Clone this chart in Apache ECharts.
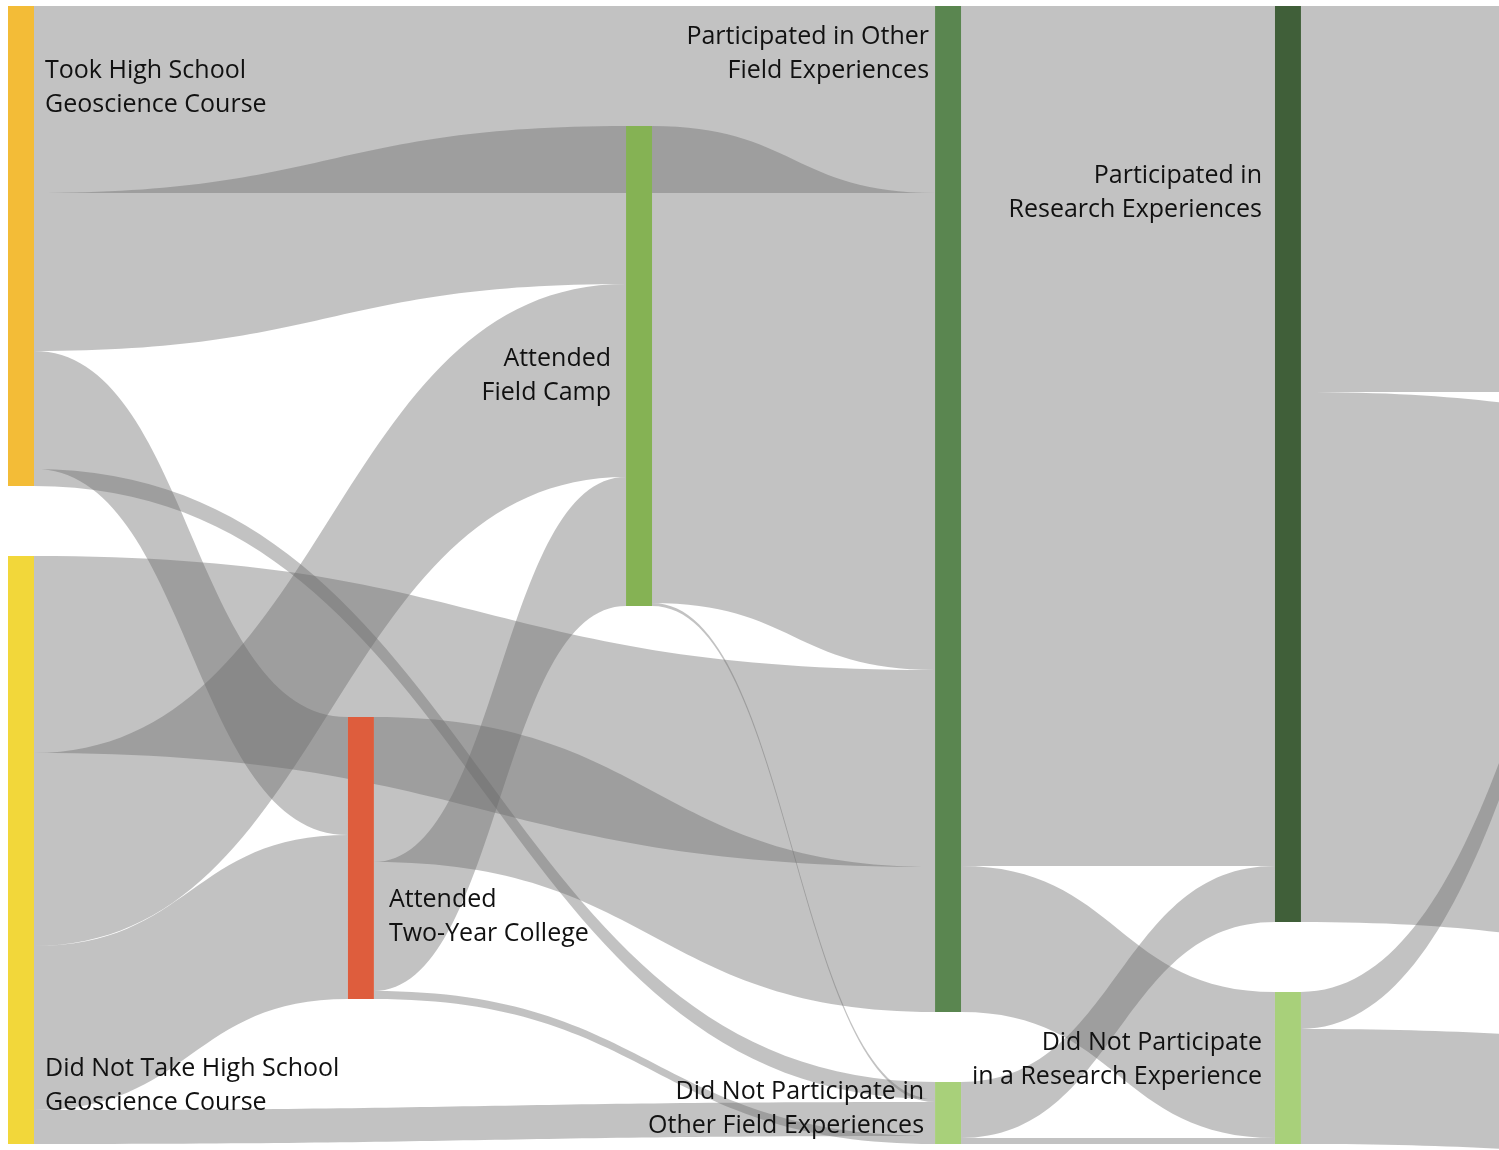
<!DOCTYPE html>
<html>
<head>
<meta charset="utf-8">
<title>Geoscience pathways</title>
<script src="https://cdn.jsdelivr.net/npm/echarts@6/dist/echarts.min.js"></script>
<style>
  html, body { margin: 0; padding: 0; background: #fff; }
  #chart { width: 1499px; height: 1150px; }
</style>
</head>
<body>
<div id="chart"></div>
<script>
// nodes (visible part of the diagram, left to right)
const nodeNames = [
  "Took High School Geoscience Course",
  "Did Not Take High School Geoscience Course",
  "Attended Two-Year College",
  "Attended Field Camp",
  "Participated in Other Field Experiences",
  "Did Not Participate in Other Field Experiences",
  "Participated in Research Experiences",
  "Did Not Participate in a Research Experience"
];
const nodeLabels = [
  "Took High School\nGeoscience Course",
  "Did Not Take High School\nGeoscience Course",
  "Attended\nTwo-Year College",
  "Attended\nField Camp",
  "Participated in Other\nField Experiences",
  "Did Not Participate in\nOther Field Experiences",
  "Participated in\nResearch Experiences",
  "Did Not Participate\nin a Research Experience"
];
// the next stage is cut off at the right edge of the picture
const hiddenNames = ["Next Stage A", "Next Stage B", "Next Stage C", "Next Stage D"];

// flows
const linkSources = [
  "Took High School Geoscience Course", "Took High School Geoscience Course",
  "Took High School Geoscience Course", "Took High School Geoscience Course",
  "Did Not Take High School Geoscience Course", "Did Not Take High School Geoscience Course",
  "Did Not Take High School Geoscience Course", "Did Not Take High School Geoscience Course",
  "Attended Two-Year College", "Attended Two-Year College", "Attended Two-Year College",
  "Attended Field Camp", "Attended Field Camp",
  "Participated in Other Field Experiences", "Participated in Other Field Experiences",
  "Did Not Participate in Other Field Experiences", "Did Not Participate in Other Field Experiences",
  "Participated in Research Experiences", "Participated in Research Experiences",
  "Did Not Participate in a Research Experience", "Did Not Participate in a Research Experience"
];
const linkTargets = [
  "Participated in Other Field Experiences", "Attended Field Camp",
  "Attended Two-Year College", "Did Not Participate in Other Field Experiences",
  "Participated in Other Field Experiences", "Attended Field Camp",
  "Attended Two-Year College", "Did Not Participate in Other Field Experiences",
  "Participated in Other Field Experiences", "Attended Field Camp", "Did Not Participate in Other Field Experiences",
  "Participated in Other Field Experiences", "Did Not Participate in Other Field Experiences",
  "Participated in Research Experiences", "Did Not Participate in a Research Experience",
  "Participated in Research Experiences", "Did Not Participate in a Research Experience",
  "Next Stage A", "Next Stage B",
  "Next Stage D", "Next Stage C"
];
const linkValues = [
  187, 158, 118, 17,
  197, 193, 164, 34,
  145, 129, 8,
  477, 3,
  860, 146,
  56, 6,
  386, 530,
  37, 115
];

// layout: column of each node (fine grid so the uneven column spacing can be kept)
const nodeDepths = [0, 0, 11, 20, 30, 30, 41, 41];
const hiddenDepths = [64, 64, 64, 60];
// invisible spacer nodes keep the two-year college and field camp columns low
const spacerTwoYear = 641;
const spacerFieldCamp = 50;

// styles
const nodeColors = ["#F3BC37", "#F2D73A", "#DE5D3D", "#85B254", "#5A8650", "#A8D07A", "#405F39", "#A8D07A"];
// label offset from the node's top-left corner, and alignment
const labelPlacement = [
  { position: [37, 48], align: "left" },
  { position: [37, 496], align: "left" },
  { position: [41, 166], align: "left" },
  { position: [-15, 216], align: "right" },
  { position: [-6, 14], align: "right" },
  { position: [-11, -7], align: "right" },
  { position: [-13, 153], align: "right" },
  { position: [-13, 34], align: "right" }
];

const chart = echarts.init(document.getElementById("chart"));

const nodes = nodeNames.map((name, i) => ({
  name: name,
  depth: nodeDepths[i],
  itemStyle: { color: nodeColors[i] },
  label: {
    formatter: nodeLabels[i],
    position: labelPlacement[i].position,
    align: labelPlacement[i].align,
    verticalAlign: "top"
  }
}));
hiddenNames.forEach((name, i) => {
  nodes.push({ name: name, depth: hiddenDepths[i], itemStyle: { color: "#888" }, label: { show: false } });
});
const spacer = { itemStyle: { color: "rgba(0,0,0,0)" }, label: { show: false }, emphasis: { disabled: true } };
nodes.splice(2, 0, Object.assign({ name: "spacer two-year", value: spacerTwoYear, depth: nodeDepths[2] }, spacer));
nodes.splice(4, 0, Object.assign({ name: "spacer field camp", value: spacerFieldCamp, depth: nodeDepths[3] }, spacer));

const links = linkValues.map((v, i) => ({
  source: linkSources[i],
  target: linkTargets[i],
  value: v
}));

chart.setOption({
  backgroundColor: "#ffffff",
  animation: false,
  series: [
    {
      type: "sankey",
      left: 8,
      top: 6,
      width: 2003.7,
      height: 1171,
      nodeWidth: 26,
      nodeGap: 70,
      layoutIterations: 0,
      nodeAlign: "left",
      draggable: false,
      emphasis: { disabled: true },
      itemStyle: { borderWidth: 0 },
      lineStyle: { color: "#6a6a6a", opacity: 0.41, curveness: 0.5 },
      label: {
        color: "#111111",
        fontFamily: "Open Sans",
        fontSize: 25,
        lineHeight: 34
      },
      data: nodes,
      links: links
    }
  ]
});
</script>
</body>
</html>
